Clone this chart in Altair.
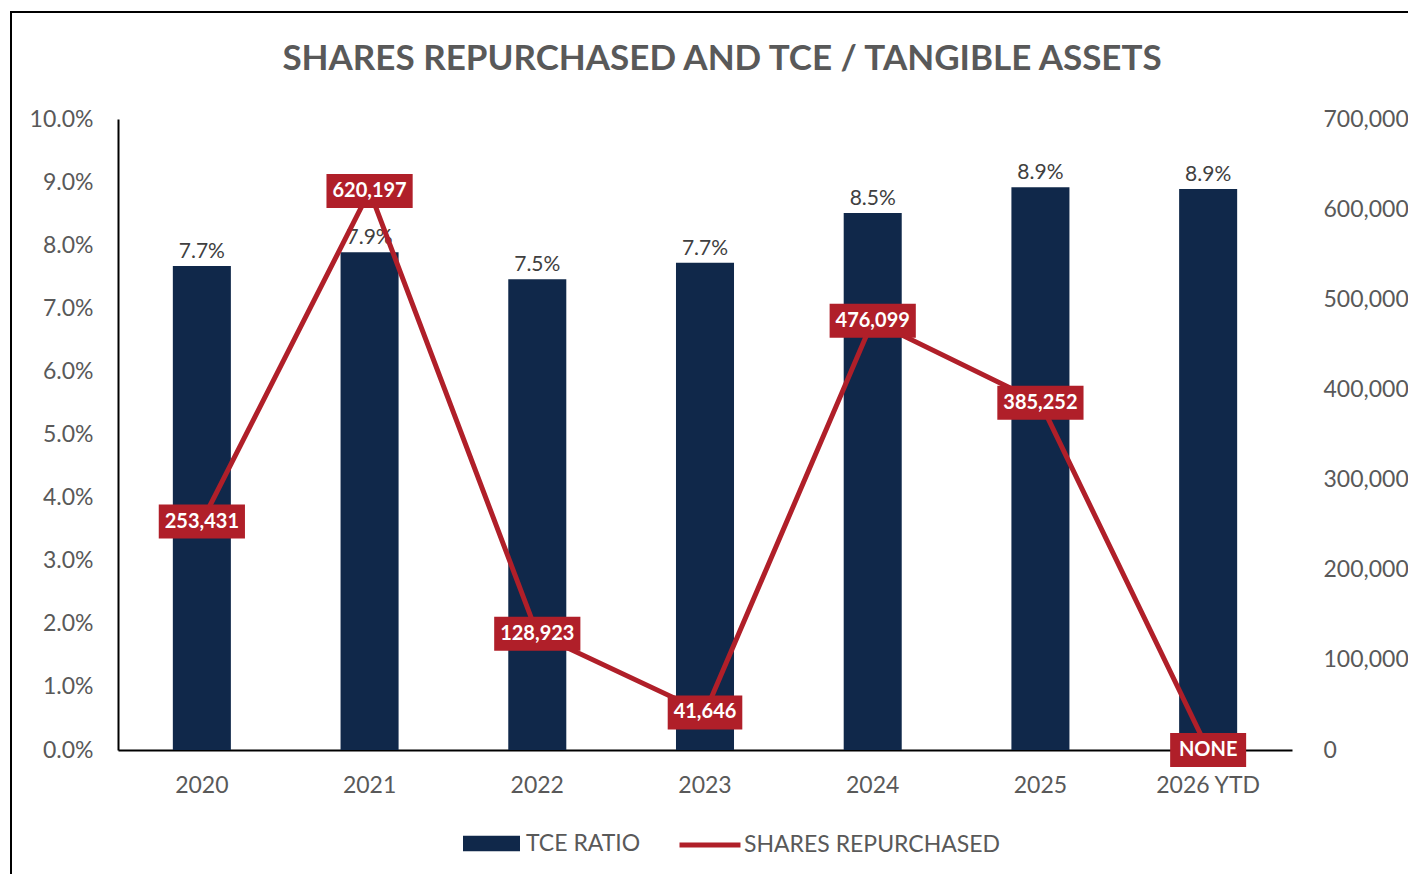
import altair as alt
import pandas as pd

# ---- data ----
years = ["2020", "2021", "2022", "2023", "2024", "2025", "2026 YTD"]
tce_ratio = [0.0767, 0.0789, 0.0746, 0.0772, 0.0851, 0.0892, 0.0889]
shares_repurchased = [253431, 620197, 128923, 41646, 476099, 385252, 0]
left_ticks = [i / 100 for i in range(11)]
right_ticks = [i * 100000 for i in range(8)]
TITLE = "SHARES REPURCHASED AND TCE / TANGIBLE ASSETS"

NAVY = "#10284A"
RED = "#B01F29"
GRAY = "#595959"
FONT = "Lato"


def label_text(v):
    return f"{v:,}" if v else "NONE"


def box_path(s):
    w = sum(11.6 if c.isdigit() else 4.6 if c == "," else 16.0 for c in s) + 12
    h = 34
    return f"M{-w/2:.1f},{-h/2}H{w/2:.1f}V{h/2}H{-w/2:.1f}Z"


bar_df = pd.DataFrame({"year": years, "tce": tce_ratio, "series": "TCE RATIO"})
labels = [label_text(v) for v in shares_repurchased]
line_df = pd.DataFrame({
    "year": years,
    "shares": shares_repurchased,
    "series": "SHARES REPURCHASED",
    "label": labels,
    "box": [box_path(s) for s in labels],
})
one = pd.DataFrame({"k": [0]})

x = alt.X(
    "year:N", sort=years,
    scale=alt.Scale(paddingInner=0.654, paddingOuter=0.327),
    axis=alt.Axis(title=None, labelAngle=0, ticks=False, domainColor="black",
                  domainWidth=2, labelPadding=24, labelColor=GRAY,
                  labelFontSize=23, labelFont=FONT),
)
y_left = alt.Y(
    "tce:Q", scale=alt.Scale(domain=[0, 0.1]),
    axis=alt.Axis(title=None, format=".1%", values=left_ticks, ticks=False,
                  domainColor="black", domainWidth=2, labelPadding=25,
                  labelFontSize=23, labelColor=GRAY, labelFont=FONT, grid=False),
)
y_right = alt.Y(
    "shares:Q", scale=alt.Scale(domain=[0, 700000]),
    axis=alt.Axis(title=None, orient="right", format=",d", values=right_ticks,
                  ticks=False, domain=False, labelPadding=31, labelFontSize=23,
                  labelColor=GRAY, labelFont=FONT, grid=False),
)

bars = alt.Chart(bar_df).mark_bar().encode(
    x=x, y=y_left,
    fill=alt.Fill("series:N",
                  scale=alt.Scale(domain=["TCE RATIO"], range=[NAVY]),
                  legend=alt.Legend(title=None, orient="none", legendX=345, legendY=696,
                                    symbolType="M-1,-0.27H1V0.27H-1Z", symbolSize=3249,
                                    symbolStrokeWidth=0, labelFontSize=23,
                                    labelColor=GRAY, labelFont=FONT, labelOffset=6,
                                    labelLimit=400, padding=0)),
)
bar_labels = alt.Chart(bar_df).mark_text(
    baseline="bottom", dy=-4, fontSize=21, color="#404040", font=FONT
).encode(x=x, y=y_left, text=alt.Text("tce:Q", format=".1%"))

line = alt.Chart(line_df).mark_line(strokeWidth=5).encode(
    x=x, y=y_right,
    stroke=alt.Stroke("series:N",
                      scale=alt.Scale(domain=["SHARES REPURCHASED"], range=[RED]),
                      legend=alt.Legend(title=None, orient="none", legendX=559, legendY=693,
                                        symbolType="stroke", symbolSize=3721,
                                        symbolStrokeWidth=5, labelFontSize=23,
                                        labelColor=GRAY, labelFont=FONT, labelOffset=1,
                                        labelLimit=400, padding=0)),
)
boxes = alt.Chart(line_df).mark_point(
    filled=True, size=4, opacity=1, color=RED, strokeWidth=0
).encode(x=x, y=y_right, shape=alt.Shape("box:N", scale=None, legend=None))
box_text = alt.Chart(line_df).mark_text(
    font=FONT, fontWeight="bold", fontSize=20, color="white", baseline="middle"
).encode(x=x, y=y_right, text="label:N")

border_left = alt.Chart(one).mark_rule(color="black", strokeWidth=2).encode(
    x=alt.value(-107), y=alt.value(-108), y2=alt.value(800))
border_top = alt.Chart(one).mark_rule(color="black", strokeWidth=2).encode(
    x=alt.value(-108), x2=alt.value(1400), y=alt.value(-107))
title = alt.Chart(one).mark_text(
    font=FONT, fontSize=35, fontWeight="bold", color=GRAY, baseline="middle",
    align="center"
).encode(x=alt.value(604), y=alt.value(-60), text=alt.value(TITLE))

left_layer = alt.layer(bars, bar_labels)
right_layer = alt.layer(line, boxes, box_text)

chart = alt.layer(left_layer, right_layer, border_left, border_top, title).resolve_scale(
    y="independent"
).properties(
    width=1174, height=631,
    padding={"left": 110, "top": 111, "right": 116, "bottom": 124},
    autosize=alt.AutoSizeParams(type="none"),
    background="white",
).configure_view(stroke="transparent").configure_axis(grid=False)

chart.save("out.html", embed_options={"renderer": "svg", "actions": False})
